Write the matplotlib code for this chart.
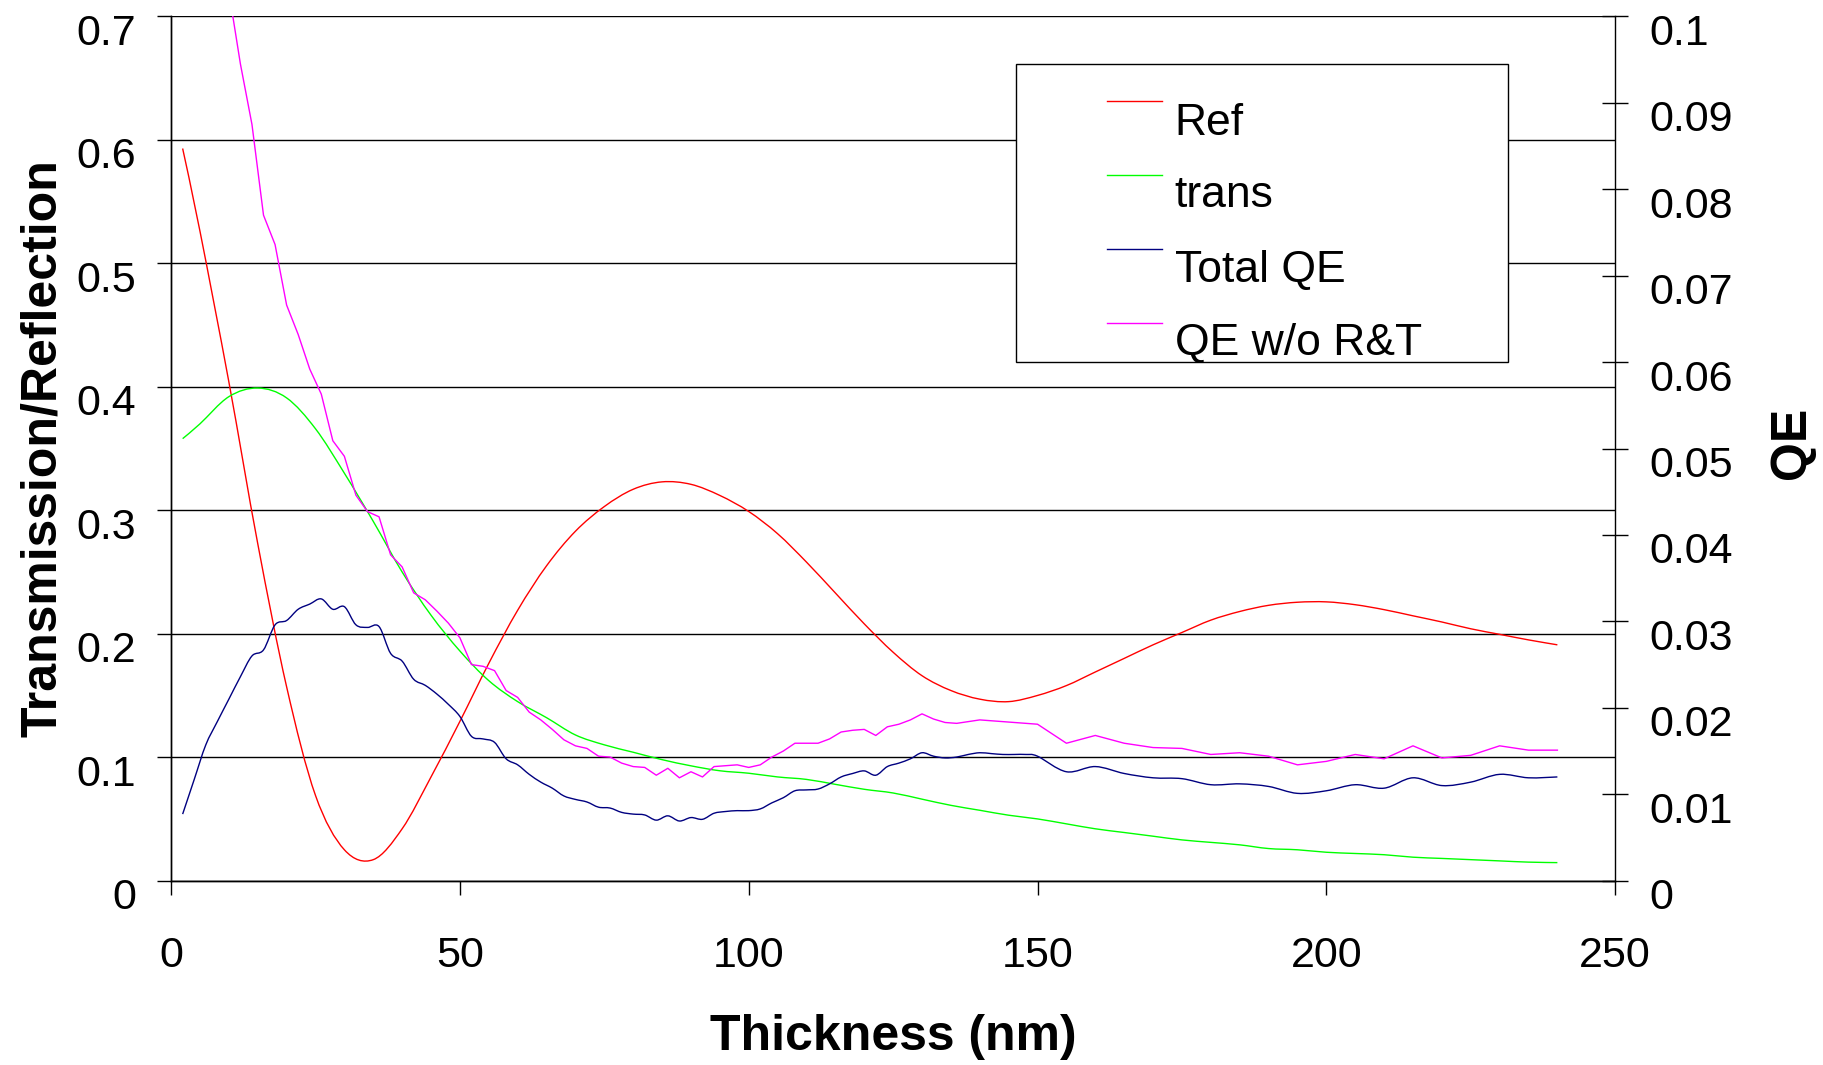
import matplotlib
matplotlib.use("Agg")
import matplotlib.pyplot as plt
import matplotlib.transforms as mtransforms
from matplotlib.lines import Line2D
from matplotlib.patches import Rectangle, PathPatch
from matplotlib.path import Path
from matplotlib.ticker import FuncFormatter

plt.rcParams['font.family'] = ['Liberation Sans', 'DejaVu Sans']

# Espessura (nm) para reflexao / transmissao
x_rt = [2, 5, 10, 15, 20, 25, 30, 35, 40, 45, 50, 55, 60, 65, 70, 75, 80, 85, 90, 95,
        100, 105, 110, 115, 120, 125, 130, 135, 140, 145, 150, 155, 160, 165, 170, 175,
        180, 185, 190, 195, 200, 205, 210, 215, 220, 225, 230, 235, 240]
ref = [0.593, 0.526, 0.404, 0.273, 0.157, 0.069, 0.025, 0.017, 0.042, 0.084, 0.129, 0.176,
       0.219, 0.255, 0.283, 0.303, 0.317, 0.323, 0.321, 0.312, 0.299, 0.281, 0.258, 0.233,
       0.208, 0.185, 0.166, 0.154, 0.147, 0.145, 0.150, 0.158, 0.169, 0.180, 0.191, 0.201,
       0.211, 0.218, 0.223, 0.2255, 0.2258, 0.2235, 0.2195, 0.2145, 0.2095, 0.204, 0.1995,
       0.195, 0.191]
trans = [0.358, 0.370, 0.392, 0.399, 0.391, 0.366, 0.330, 0.291, 0.250, 0.215, 0.186, 0.162,
         0.145, 0.132, 0.118, 0.110, 0.104, 0.098, 0.093, 0.089, 0.087, 0.084, 0.082, 0.078,
         0.074, 0.071, 0.066, 0.061, 0.057, 0.053, 0.050, 0.046, 0.042, 0.039, 0.036, 0.033,
         0.031, 0.029, 0.026, 0.025, 0.023, 0.022, 0.021, 0.019, 0.018, 0.017, 0.016, 0.015,
         0.0146]

# Espessura (nm) para QE
x_qe = list(range(2, 151, 2)) + list(range(155, 241, 5))
qe_total = [0.0077, 0.0117, 0.0157, 0.0184, 0.0210, 0.0236, 0.0260, 0.0267, 0.0296, 0.0301,
            0.0314, 0.0320, 0.0326, 0.0314, 0.0317, 0.0296, 0.0293, 0.0294, 0.0263, 0.0254,
            0.0233, 0.0226, 0.0216, 0.0204, 0.0190, 0.0167, 0.0164, 0.0160, 0.0141, 0.0134,
            0.0123, 0.0114, 0.0107, 0.0098, 0.0094, 0.0091, 0.0085, 0.0084, 0.0079, 0.0077,
            0.0076, 0.0070, 0.0075, 0.0069, 0.0073, 0.0071, 0.0078, 0.0080, 0.0081, 0.0081,
            0.0083, 0.0090, 0.0096, 0.0104, 0.0105, 0.0106, 0.0112, 0.0120, 0.0124, 0.0127,
            0.0122, 0.0132, 0.0136, 0.0141, 0.0148, 0.0144, 0.0142, 0.0143, 0.0146, 0.0148,
            0.0147, 0.0146, 0.0146, 0.0146, 0.0144,
            0.0126, 0.0132, 0.0124, 0.0119, 0.0118, 0.0111, 0.0112, 0.0109, 0.0101, 0.0104,
            0.0111, 0.0107, 0.0119, 0.0110, 0.0114, 0.0123, 0.0119, 0.0120]
# QE sem R&T (comeca em 10 nm, antes disso fica fora do grafico)
x_qe_wo = x_qe[4:]
qe_wo = [0.1029, 0.0945, 0.0875, 0.0770, 0.0736, 0.0666, 0.0632, 0.0592, 0.0563, 0.0509,
         0.0491, 0.0446, 0.0427, 0.0421, 0.0377, 0.0363, 0.0333, 0.0325, 0.0312, 0.0298,
         0.0281, 0.0250, 0.0248, 0.0243, 0.0220, 0.0212, 0.0195, 0.0186, 0.0175, 0.0163,
         0.0156, 0.0153, 0.0144, 0.0143, 0.0136, 0.0132, 0.0131, 0.0122, 0.0130, 0.0119,
         0.0126, 0.0120, 0.0132, 0.0133, 0.0134, 0.0131, 0.0134, 0.0143, 0.0150, 0.0159,
         0.0159, 0.0159, 0.0164, 0.0172, 0.0174, 0.0175, 0.0168, 0.0178, 0.0181, 0.0186,
         0.0193, 0.0187, 0.0183, 0.0182, 0.0184, 0.0186, 0.0185, 0.0184, 0.0183, 0.0182,
         0.0181,
         0.0159, 0.0168, 0.0159, 0.0154, 0.0153, 0.0146, 0.0148, 0.0144, 0.0134, 0.0138,
         0.0146, 0.0141, 0.0156, 0.0142, 0.0145, 0.0156, 0.0151, 0.0151]

labels = ['Ref', 'trans', 'Total QE', 'QE w/o R&T']
cores = ['#FF0000', '#00FF00', '#000080', '#FF00FF']


def linha_suave(a, xs, ys, cor):
    # linha suavizada tipo Excel (Bezier passando pelos pontos)
    n = len(xs)
    verts = [(xs[0], ys[0])]
    codes = [Path.MOVETO]
    for i in range(n - 1):
        i0 = max(i - 1, 0)
        i3 = min(i + 2, n - 1)
        c1 = (xs[i] + (xs[i + 1] - xs[i0]) / 6, ys[i] + (ys[i + 1] - ys[i0]) / 6)
        c2 = (xs[i + 1] - (xs[i3] - xs[i]) / 6, ys[i + 1] - (ys[i3] - ys[i]) / 6)
        verts += [c1, c2, (xs[i + 1], ys[i + 1])]
        codes += [Path.CURVE4] * 3
    a.add_patch(PathPatch(Path(verts, codes), facecolor='none', edgecolor=cor, lw=1.0))


fig = plt.figure(figsize=(18.24, 10.65), dpi=100)
ax = fig.add_axes([0.0938, 0.1731, 0.7917, 0.8115])
ax2 = ax.twinx()

linha_suave(ax, x_rt, ref, cores[0])
linha_suave(ax, x_rt, trans, cores[1])
linha_suave(ax2, x_qe, qe_total, cores[2])
ax2.plot(x_qe_wo, qe_wo, color=cores[3], lw=1.0)

ax.set_xlim(0, 250)
ax.set_ylim(0, 0.7)
ax2.set_ylim(0, 0.1)
ax.set_xticks([0, 50, 100, 150, 200, 250])
ax.set_yticks([i / 10 for i in range(8)])
ax2.set_yticks([i / 100 for i in range(11)])
fmt = FuncFormatter(lambda v, p: '%g' % round(v, 3))
ax.yaxis.set_major_formatter(fmt)
ax2.yaxis.set_major_formatter(fmt)

ax.yaxis.grid(True, color='black', lw=1.0)
ax.set_axisbelow(True)
ax.spines['top'].set_visible(False)
ax2.spines['top'].set_visible(False)
ax.spines['right'].set_visible(False)
for a in (ax, ax2):
    for s in a.spines.values():
        s.set_linewidth(1.0)

ax.tick_params(axis='both', direction='out', length=10, width=1.0, labelsize=31)
ax.tick_params(axis='y', pad=15)
ax.tick_params(axis='x', pad=30)
ax2.tick_params(axis='y', direction='inout', length=19, width=1.0, labelsize=31, pad=15)

# rotulos deslocados para baixo como no original
off = mtransforms.ScaledTranslation(0, -13 / 100, fig.dpi_scale_trans)
for lab in ax.get_yticklabels() + ax2.get_yticklabels():
    lab.set_transform(lab.get_transform() + off)

ax.set_xlabel('Thickness (nm)', fontsize=36, fontweight='bold')
ax.xaxis.set_label_coords(0.5, -0.154)
ax.set_ylabel('Transmission/Reflection', fontsize=36, fontweight='bold')
ax.yaxis.set_label_coords(-0.0727, 0.5)
ax2.set_ylabel('QE', fontsize=36, fontweight='bold', rotation=90)
ax2.yaxis.set_label_coords(1.1066, 0.506)

# legenda
ax2.add_patch(Rectangle((0.585, 0.600), 0.341, 0.345, transform=ax2.transAxes,
                        facecolor='white', edgecolor='black', lw=1.0, zorder=5))
for i, (lab, c) in enumerate(zip(labels, cores)):
    yl = [0.902, 0.817, 0.731, 0.645][i]
    yt = [0.863, 0.780, 0.693, 0.608][i]
    ax2.add_line(Line2D([0.648, 0.686], [yl, yl], transform=ax2.transAxes, color=c,
                        lw=1.0, zorder=6))
    ax2.text(0.695, yt, lab, transform=ax2.transAxes, fontsize=32, va='baseline',
             ha='left', zorder=6)

plt.savefig('out.png', dpi=100)
